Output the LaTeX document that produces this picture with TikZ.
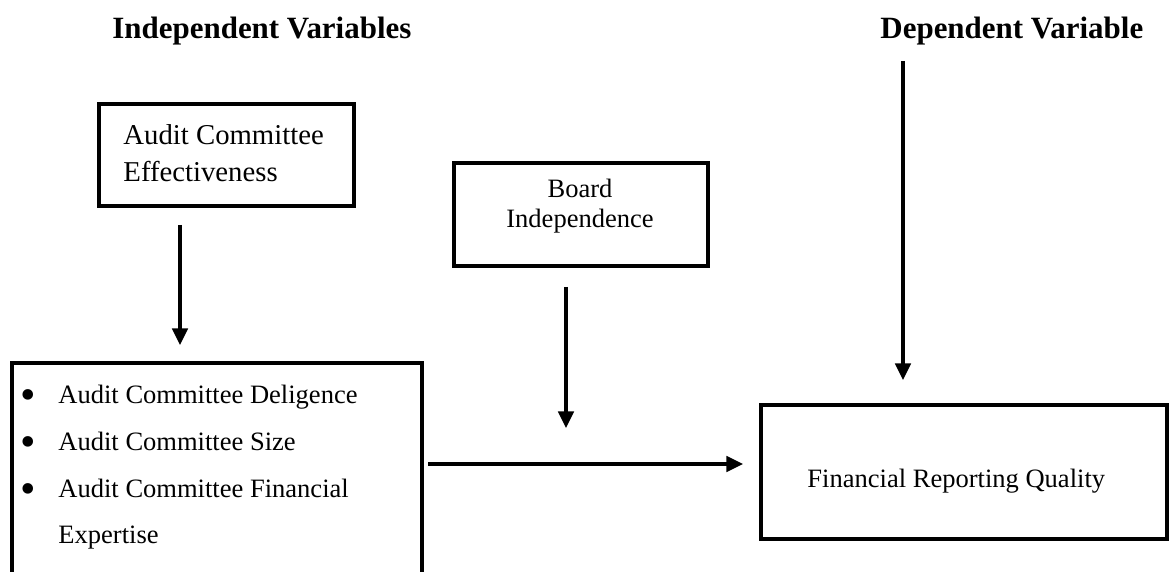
\documentclass[tikz,border=0pt]{standalone}
\usepackage{fontspec}
\setmainfont{Liberation Serif}
\usetikzlibrary{arrows.meta,fit}

\tikzset{
  box/.style={draw, line width=1.4pt, inner sep=0pt},
  txt/.style={inner sep=0pt, anchor=base west, font=\fontsize{12}{14}\selectfont},
  dot/.style={inner sep=0pt, anchor=base, font=\fontsize{20}{22}\selectfont},
  title/.style={inner sep=0pt, anchor=base west, font=\fontsize{14}{17}\selectfont\bfseries},
  flow/.style={line width=1.4pt, -{Triangle[length=7.5pt,width=7pt]}}
}

\begin{document}
\begin{tikzpicture}[x=0.0159cm,y=-0.0159cm]

\useasboundingbox (0,0) rectangle (1170,572);

\node [title] (indep) at (112,39) {Independent Variables};
\node [title] (dep) at (880,39) {Dependent Variable};

\path (99,104) coordinate(A1);
\path (354,206) coordinate(A2);
\node [box, fit=(A1)(A2)] (acebox) {};
\node [txt, font=\fontsize{13}{15}\selectfont] (ace1) at (123,145) {Audit Committee};
\node [txt, font=\fontsize{13}{15}\selectfont] (ace2) at (123,182) {Effectiveness};

\path (12,363) coordinate(B1);
\path (422,600) coordinate(B2);
\node [box, fit=(B1)(B2)] (itembox) {};
\node [dot] (dot1) at (28,409) {\textbullet};
\node [dot] (dot2) at (28,456) {\textbullet};
\node [dot] (dot3) at (28,503) {\textbullet};
\node [txt] (item1) at (58,403) {Audit Committee Deligence};
\node [txt] (item2) at (58,450) {Audit Committee Size};
\node [txt] (item3) at (58,497) {Audit Committee Financial};
\node [txt] (item4) at (58,543) {Expertise};

\path (454,163) coordinate(C1);
\path (708,266) coordinate(C2);
\node [box, fit=(C1)(C2)] (bibox) {};
\node [txt, anchor=base] (bi1) at (580,198) {Board};
\node [txt, anchor=base] (bi2) at (580,228) {Independence};

\path (761,405) coordinate(D1);
\path (1167,539) coordinate(D2);
\node [box, fit=(D1)(D2)] (frqbox) {};
\node [txt] (frq) at (807,487) {Financial Reporting Quality};

\path (180,225) coordinate(E1);
\path (180,345) coordinate(E2);
\path (566,287) coordinate(F1);
\path (566,428) coordinate(F2);
\path (903,61) coordinate(G1);
\path (903,380) coordinate(G2);
\path (428,464) coordinate(H1);
\path (743,464) coordinate(H2);

\draw [flow] (E1)--(E2);
\draw [flow] (F1)--(F2);
\draw [flow] (G1)--(G2);
\draw [flow] (H1)--(H2);

\end{tikzpicture}
\end{document}
